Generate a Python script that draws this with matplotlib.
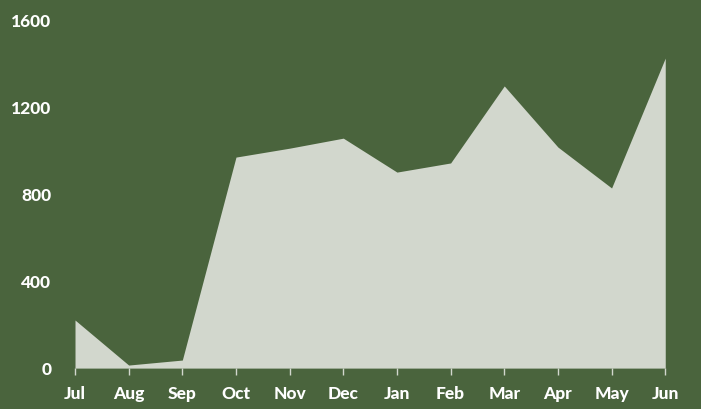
import matplotlib
matplotlib.use('Agg')
import matplotlib.pyplot as plt

months = ['Jul', 'Aug', 'Sep', 'Oct', 'Nov', 'Dec', 'Jan', 'Feb', 'Mar', 'Apr', 'May', 'Jun']
values = [221, 14, 37, 970, 1011, 1057, 901, 943, 1297, 1016, 828, 1425]
y_ticks = [0, 400, 800, 1200, 1600]

bg = '#4a643d'
fill = '#d2d7cd'

fig = plt.figure(figsize=(7.01, 4.09), dpi=100, facecolor=bg)
ax = fig.add_axes([0.107, 0.1, 0.842, 0.851], facecolor=bg)

x = range(len(months))
ax.fill_between(x, values, 0, color=fill, linewidth=0)

ax.set_xlim(0, len(months) - 1)
ax.set_ylim(0, 1600)
ax.set_xticks(list(x))
ax.set_xticklabels(months)
ax.set_yticks(y_ticks)
ax.set_yticklabels([str(v) for v in y_ticks])

for s in ax.spines.values():
    s.set_visible(False)

ax.tick_params(axis='x', colors=fill, length=5, width=1, pad=8, labelcolor='white')
ax.tick_params(axis='y', length=0, pad=17, labelcolor='white')
for lbl in ax.get_xticklabels() + ax.get_yticklabels():
    lbl.set_family('Lato')
    lbl.set_fontweight('black')
    lbl.set_fontsize(12.5)

fig.savefig('out.png', dpi=100, facecolor=bg)
